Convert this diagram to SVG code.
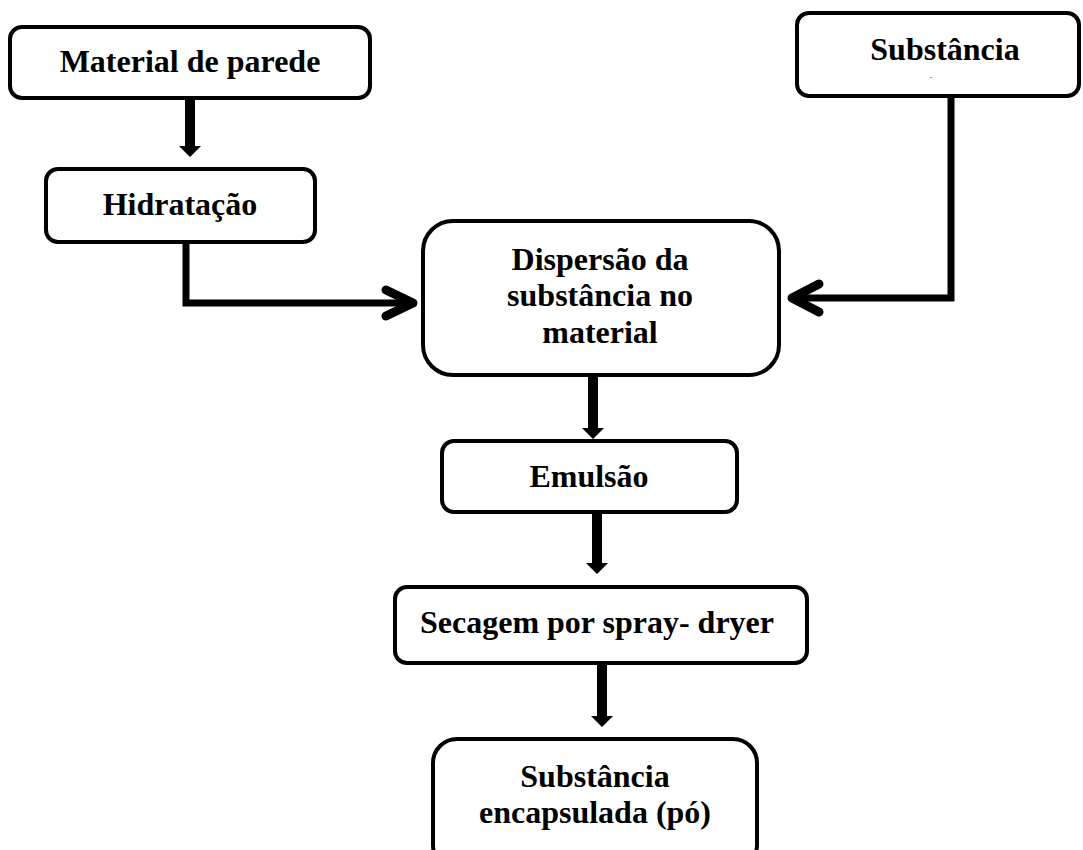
<svg xmlns="http://www.w3.org/2000/svg" width="1083" height="850" viewBox="0 0 1083 850">
<style>
.box{fill:#fff;stroke:#000;stroke-width:4}
.t{font-family:"Liberation Serif","Times New Roman",serif;font-weight:bold;font-size:32px;fill:#000;text-anchor:middle}
.shaft{fill:#000}
.line{fill:none;stroke:#000;stroke-width:7}
.chev{fill:none;stroke:#000;stroke-width:9;stroke-linecap:round;stroke-linejoin:round}
</style>
<rect width="1083" height="850" fill="#fff"/>
<g id="connectors">
<path class="shaft" d="M185 97 H195 V146 H201 L190 157 L179 146 H185 Z"/>
<path class="line" d="M186 242 V303 H410"/>
<path class="chev" d="M386 290 L413 303 L386 316"/>
<path class="line" d="M951 95 V298 H795"/>
<path class="chev" d="M819 284 L792 298 L819 312"/>
<path class="shaft" d="M588 375 H598 V428 H604 L593 439 L582 428 H588 Z"/>
<path class="shaft" d="M592 512 H602 V563 H608 L597 574 L586 563 H592 Z"/>
<path class="shaft" d="M597 663 H607 V716 H613 L602 727 L591 716 H597 Z"/>
</g>
<g id="material"><rect class="box" x="10" y="27" width="360" height="71" rx="12"/><text class="t" x="190" y="72">Material de parede</text></g>
<g id="hidratacao"><rect class="box" x="46" y="169" width="269" height="73" rx="12"/><text class="t" x="180" y="215">Hidratação</text></g>
<g id="substancia"><rect class="box" x="797" y="13" width="282" height="83" rx="12"/><text class="t" x="945" y="60">Substância</text><text x="931" y="79" font-family="Liberation Serif,serif" font-size="7" text-anchor="middle">-</text></g>
<g id="dispersao"><rect class="box" x="423" y="221" width="356" height="154" rx="30"/><text class="t" x="600" y="270">Dispersão da</text><text class="t" x="600" y="306">substância no</text><text class="t" x="600" y="343">material</text></g>
<g id="emulsao"><rect class="box" x="442" y="441" width="295" height="71" rx="12"/><text class="t" x="589" y="487">Emulsão</text></g>
<g id="secagem"><rect class="box" x="395" y="587" width="412" height="76" rx="12"/><text class="t" x="597" y="633">Secagem por spray- dryer</text></g>
<g id="final"><rect class="box" x="433" y="739" width="324" height="130" rx="24"/><text class="t" x="595" y="787">Substância</text><text class="t" x="595" y="823">encapsulada (pó)</text></g>
</svg>
